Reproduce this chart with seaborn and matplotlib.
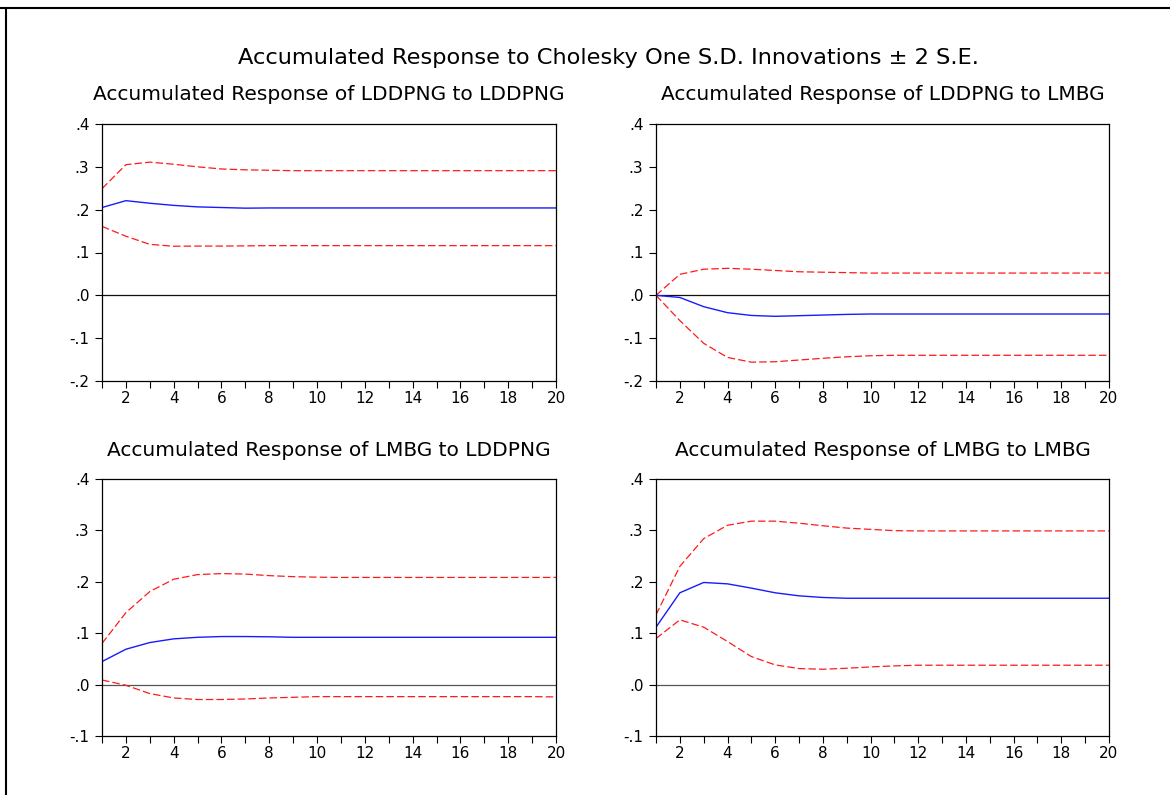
import numpy as np
import pandas as pd
import matplotlib
matplotlib.use("Agg")
import matplotlib.pyplot as plt
from matplotlib.lines import Line2D
from matplotlib.ticker import FuncFormatter, MultipleLocator
import seaborn as sns

sns.set_style("ticks", {"text.color": "black", "xtick.color": "black",
                        "ytick.color": "black", "axes.labelcolor": "black"})
plt.rcParams["font.family"] = ["DejaVu Sans"]

periods = list(range(1, 21))

# LDDPNG to LDDPNG
r11 = [0.205, 0.221, 0.215, 0.210, 0.2065, 0.205, 0.2035, 0.204, 0.204, 0.204,
       0.204, 0.204, 0.204, 0.204, 0.204, 0.204, 0.204, 0.204, 0.204, 0.204]
u11 = [0.249, 0.305, 0.311, 0.306, 0.300, 0.295, 0.293, 0.292, 0.291, 0.291,
       0.291, 0.291, 0.291, 0.291, 0.291, 0.291, 0.291, 0.291, 0.291, 0.291]
l11 = [0.161, 0.138, 0.119, 0.1146, 0.115, 0.115, 0.1155, 0.116, 0.116, 0.116,
       0.116, 0.116, 0.116, 0.116, 0.116, 0.116, 0.116, 0.116, 0.116, 0.116]

# LDDPNG to LMBG
r12 = [0.0, -0.005, -0.0265, -0.0405, -0.047, -0.049, -0.0475, -0.046, -0.0445, -0.0436,
       -0.0436, -0.0436, -0.0436, -0.0436, -0.0436, -0.0436, -0.0436, -0.0436, -0.0436, -0.0436]
u12 = [0.0, 0.049, 0.061, 0.063, 0.061, 0.058, 0.055, 0.054, 0.053, 0.052,
       0.052, 0.052, 0.052, 0.052, 0.052, 0.052, 0.052, 0.052, 0.052, 0.052]
l12 = [0.0, -0.059, -0.112, -0.145, -0.156, -0.155, -0.151, -0.147, -0.1435, -0.141,
       -0.140, -0.140, -0.140, -0.140, -0.140, -0.140, -0.140, -0.140, -0.140, -0.140]

# LMBG to LDDPNG
r21 = [0.0448, 0.0688, 0.0818, 0.089, 0.092, 0.0935, 0.0935, 0.093, 0.092, 0.092,
       0.092, 0.092, 0.092, 0.092, 0.092, 0.092, 0.092, 0.092, 0.092, 0.092]
u21 = [0.080, 0.140, 0.181, 0.205, 0.214, 0.216, 0.215, 0.212, 0.210, 0.209,
       0.2085, 0.2085, 0.2085, 0.2085, 0.2085, 0.2085, 0.2085, 0.2085, 0.2085, 0.2085]
l21 = [0.009, -0.0013, -0.0175, -0.026, -0.029, -0.029, -0.028, -0.026, -0.0247, -0.0234,
       -0.0234, -0.0234, -0.0234, -0.0234, -0.0234, -0.0234, -0.0234, -0.0234, -0.0234, -0.024]

# LMBG to LMBG
r22 = [0.1117, 0.1786, 0.1987, 0.196, 0.1877, 0.1786, 0.1727, 0.1695, 0.168, 0.168,
       0.168, 0.168, 0.168, 0.168, 0.168, 0.168, 0.168, 0.168, 0.168, 0.168]
u22 = [0.1357, 0.230, 0.284, 0.310, 0.318, 0.318, 0.314, 0.309, 0.3045, 0.302,
       0.2995, 0.299, 0.299, 0.299, 0.299, 0.299, 0.299, 0.299, 0.299, 0.299]
l22 = [0.0896, 0.126, 0.1117, 0.0838, 0.0545, 0.0383, 0.0312, 0.0299, 0.0318, 0.0344,
       0.0364, 0.0377, 0.0377, 0.0377, 0.0377, 0.0377, 0.0377, 0.0377, 0.0377, 0.0377]

titles = ["Accumulated Response of LDDPNG to LDDPNG",
          "Accumulated Response of LDDPNG to LMBG",
          "Accumulated Response of LMBG to LDDPNG",
          "Accumulated Response of LMBG to LMBG"]
responses = [r11, r12, r21, r22]
uppers = [u11, u12, u21, u22]
lowers = [l11, l12, l21, l22]
ylims = [(-0.2, 0.4), (-0.2, 0.4), (-0.1, 0.4), (-0.1, 0.4)]
zero_colors = ["#111111", "#111111", "#555555", "#555555"]

fig = plt.figure(figsize=(11.7, 7.95), dpi=100)
fig.patch.set_facecolor("white")

W, H = 1170.0, 795.0
boxes = [(102, 124, 556, 381), (656, 124, 1109, 381),
         (102, 479, 556, 736), (656, 479, 1109, 736)]


def fmt(v, _pos):
    s = f"{v:.1f}"
    if s.startswith("-0"):
        return "-" + s[2:]
    if s.startswith("0"):
        return s[1:]
    return s


for i in range(4):
    x0, y0, x1, y1 = boxes[i]
    ax = fig.add_axes([x0 / W, 1 - y1 / H, (x1 - x0) / W, (y1 - y0) / H])
    df = pd.DataFrame({"period": periods, "resp": responses[i],
                       "up": uppers[i], "lo": lowers[i]})
    ax.axhline(0, color=zero_colors[i], lw=0.9, zorder=1)
    sns.lineplot(data=df, x="period", y="up", ax=ax, color="#ff1a1a", lw=0.9,
                 dashes=False, linestyle=(0, (6, 2.5)))
    sns.lineplot(data=df, x="period", y="lo", ax=ax, color="#ff1a1a", lw=0.9,
                 dashes=False, linestyle=(0, (6, 2.5)))
    sns.lineplot(data=df, x="period", y="resp", ax=ax, color="#1a1aff", lw=1.0)
    ax.set_xlim(1, 20)
    ax.set_ylim(*ylims[i])
    ax.set_xlabel("")
    ax.set_ylabel("")
    ax.xaxis.set_major_locator(MultipleLocator(2))
    ax.xaxis.set_minor_locator(MultipleLocator(1))
    ax.yaxis.set_major_locator(MultipleLocator(0.1))
    ax.yaxis.set_major_formatter(FuncFormatter(fmt))
    ax.tick_params(axis="both", which="both", direction="out", labelsize=11,
                   color="black", labelcolor="black", width=0.8)
    ax.tick_params(axis="x", which="both", length=5, pad=2)
    ax.tick_params(axis="y", length=5, pad=4)
    ax.tick_params(top=False, right=False)
    for sp in ax.spines.values():
        sp.set_visible(True)
        sp.set_color("black")
        sp.set_linewidth(0.9)
    cx = (x0 + x1) / 2 / W
    ty = (y0 - 29) / H
    fig.text(cx, 1 - ty, titles[i], ha="center", va="center", fontsize=14.5,
             color="black")

fig.text(608 / W, 1 - 58 / H,
         "Accumulated Response to Cholesky One S.D. Innovations \u00b1 2 S.E.",
         ha="center", va="center", fontsize=16.2, color="black")

# outer frame along the top and left edges
fig.add_artist(Line2D([0, 1], [1 - 8 / H, 1 - 8 / H], transform=fig.transFigure,
                      color="black", lw=1.5))
fig.add_artist(Line2D([6 / W, 6 / W], [0, 1 - 8 / H], transform=fig.transFigure,
                      color="black", lw=1.5))

fig.savefig("out.png", dpi=100)
